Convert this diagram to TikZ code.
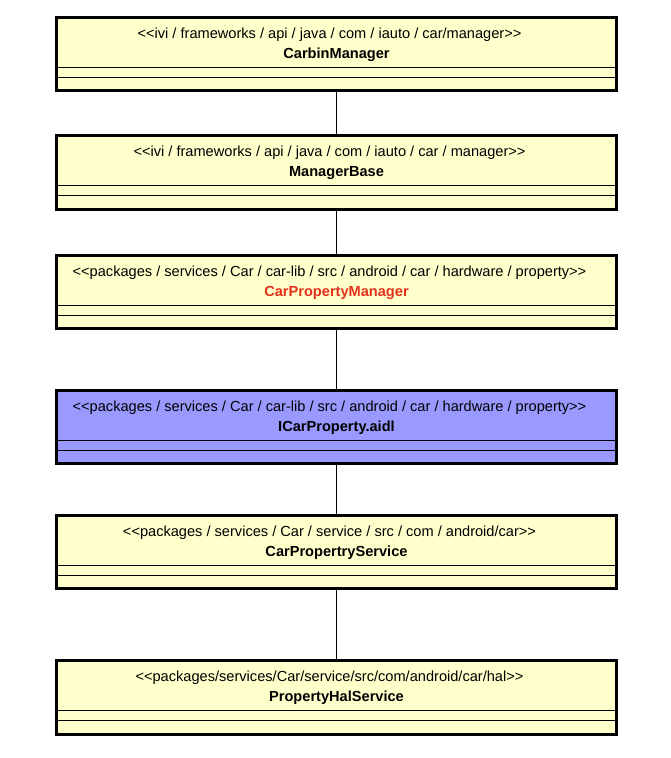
\documentclass[tikz,border=0pt]{standalone}
\usepackage{fontspec}
\setmainfont{Liberation Sans}
\definecolor{clsyellow}{HTML}{FFFFCC}
\definecolor{clsblue}{HTML}{9999FF}
\definecolor{clsred}{HTML}{E5301C}
\begin{document}
\begin{tikzpicture}[x=1pt, y=-1pt,
  font=\fontsize{14.6}{17}\selectfont,
  clase/.style={rectangle, draw, line width=2.6pt, fill=clsyellow,
                minimum width=560pt, minimum height=73.5pt, inner sep=0pt},
  estereo/.style={anchor=center, inner sep=0pt, xshift=-7pt},
  nombre/.style={anchor=center, inner sep=0pt, font=\fontsize{14.6}{17}\selectfont\bfseries},
  sep/.style={line width=0.9pt},
  enlace/.style={line width=0.8pt}
]
\useasboundingbox (0,0) rectangle (670,758);

% --- CarbinManager ---
\node[clase] (carbin) at (336.5, 54) {};
\node[estereo] at ([yshift=19.5pt]carbin.center)
      {<{}<ivi / frameworks / api / java / com / iauto / car/manager>{}>};
\node[nombre] at ([yshift=-0.5pt]carbin.center) {CarbinManager};
\draw[sep] ([yshift=-13pt]carbin.west) -- ([yshift=-13pt]carbin.east);
\draw[sep] ([yshift=-23pt]carbin.west) -- ([yshift=-23pt]carbin.east);

% --- ManagerBase ---
\node[clase] (base) at (336.5, 172.5) {};
\node[estereo] at ([yshift=19.5pt]base.center)
      {<{}<ivi / frameworks / api / java / com / iauto / car / manager>{}>};
\node[nombre] at ([yshift=-0.5pt]base.center) {ManagerBase};
\draw[sep] ([yshift=-13pt]base.west) -- ([yshift=-13pt]base.east);
\draw[sep] ([yshift=-23pt]base.west) -- ([yshift=-23pt]base.east);

% --- CarPropertyManager ---
\node[clase] (propman) at (336.5, 292) {};
\node[estereo] at ([yshift=19.5pt]propman.center)
      {<{}<packages / services / Car / car-lib / src / android / car / hardware / property>{}>};
\node[nombre, text=clsred] at ([yshift=-0.5pt]propman.center) {CarPropertyManager};
\draw[sep] ([yshift=-13pt]propman.west) -- ([yshift=-13pt]propman.east);
\draw[sep] ([yshift=-23pt]propman.west) -- ([yshift=-23pt]propman.east);

% --- ICarProperty.aidl ---
\node[clase, fill=clsblue] (aidl) at (336.5, 427) {};
\node[estereo] at ([yshift=19.5pt]aidl.center)
      {<{}<packages / services / Car / car-lib / src / android / car / hardware / property>{}>};
\node[nombre] at ([yshift=-0.5pt]aidl.center) {ICarProperty.aidl};
\draw[sep] ([yshift=-13pt]aidl.west) -- ([yshift=-13pt]aidl.east);
\draw[sep] ([yshift=-23pt]aidl.west) -- ([yshift=-23pt]aidl.east);

% --- CarPropertryService ---
\node[clase] (servicio) at (336.5, 552) {};
\node[estereo] at ([yshift=19.5pt]servicio.center)
      {<{}<packages / services / Car / service / src / com / android/car>{}>};
\node[nombre] at ([yshift=-0.5pt]servicio.center) {CarPropertryService};
\draw[sep] ([yshift=-13pt]servicio.west) -- ([yshift=-13pt]servicio.east);
\draw[sep] ([yshift=-23pt]servicio.west) -- ([yshift=-23pt]servicio.east);

% --- PropertyHalService ---
\node[clase] (hal) at (336.5, 697.5) {};
\node[estereo] at ([yshift=19.5pt]hal.center)
      {<{}<packages/services/Car/service/src/com/android/car/hal>{}>};
\node[nombre] at ([yshift=-0.5pt]hal.center) {PropertyHalService};
\draw[sep] ([yshift=-13pt]hal.west) -- ([yshift=-13pt]hal.east);
\draw[sep] ([yshift=-23pt]hal.west) -- ([yshift=-23pt]hal.east);

% --- Relaciones ---
\draw[enlace] (carbin.south) -- (base.north);
\draw[enlace] (base.south) -- (propman.north);
\draw[enlace] (propman.south) -- (aidl.north);
\draw[enlace] (aidl.south) -- (servicio.north);
\draw[enlace] (servicio.south) -- (hal.north);

\end{tikzpicture}
\end{document}
